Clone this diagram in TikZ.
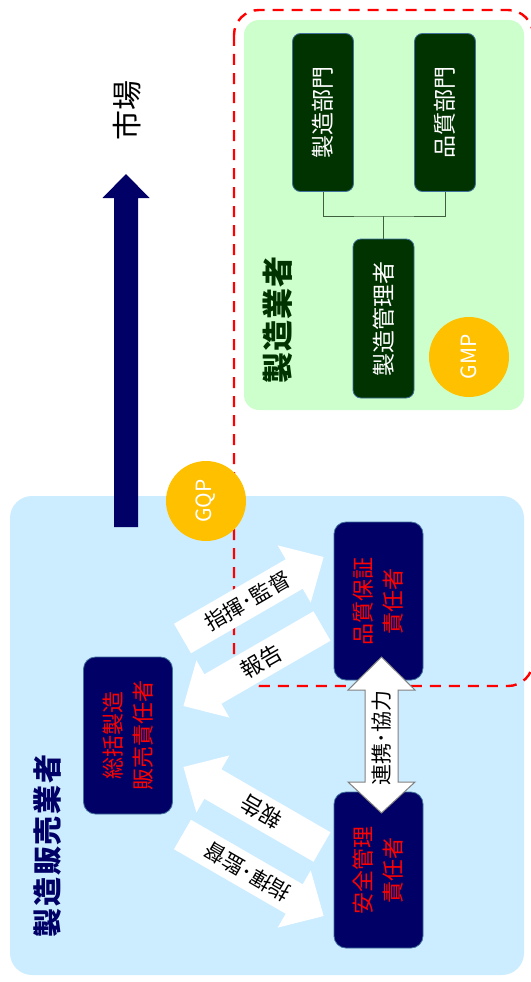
\documentclass[tikz,border=0pt]{standalone}
\usepackage{fontspec}
\setmainfont{Noto Sans CJK JP}
\definecolor{lblue}{HTML}{CCECFF}
\definecolor{lgreen}{HTML}{CCFFCC}
\definecolor{navy}{HTML}{000066}
\definecolor{dgreen}{HTML}{003300}
\definecolor{boxline}{HTML}{41719C}
\definecolor{gold}{HTML}{FFC000}
\definecolor{connline}{HTML}{3F5F3F}
\tikzset{
  fs/.style={font=\fontsize{#1}{#1}\selectfont},
  greenbox/.style={rounded corners=8pt, fill=dgreen, draw=boxline, line width=0.8pt,
    rotate=90, text=white, inner sep=0pt, minimum width=158pt, minimum height=61pt,
    font=\fontsize{23}{26}\selectfont},
  navybox/.style={rounded corners=12pt, fill=navy, draw=boxline, line width=0.8pt,
    rotate=90, text=red, inner sep=0pt, align=center, minimum width=157pt, minimum height=89pt,
    font=\fontsize{22}{30}\selectfont},
  badge/.style={circle, fill=gold, text=white, minimum size=80pt, inner sep=0pt,
    rotate=90, font=\fontsize{21}{21}\selectfont},
  blockarrow/.style={fill=white},
  arrowtext/.style={transform shape, text=black, inner sep=0pt},
  title/.style 2 args={rotate=90, font=\fontsize{#1}{#1}\bfseries\selectfont\addfontfeatures{LetterSpace=#2}},
}
\begin{document}
\begin{tikzpicture}[x=1pt,y=-1pt]
\useasboundingbox (0,0) rectangle (530,982);
% regions
\fill[lblue, rounded corners=22pt] (10,496) rectangle (524,975);
\fill[lgreen, rounded corners=15pt] (244,20) rectangle (524,410);
\draw[red, line width=2.4pt, dash pattern=on 11pt off 8pt, rounded corners=25pt] (234,10) rectangle (533,686);

% manufacturer
\node[title={31}{4}, text=dgreen] (mtitle) at (278,320) {製造業者};
\node[greenbox] (mfg) at (323,112.5) {製造部門};
\node[greenbox] (qual) at (445,112.5) {品質部門};
\node[greenbox, minimum width=159pt] (mgr) at (383.5,318.5) {製造管理者};
\coordinate (j) at (383.5,216);
\draw[connline, line width=0.8pt] (mfg.west) |- (j) -| (qual.west);
\draw[connline, line width=1pt] (j) -- (mgr.east);
\node[badge] (gmp) at (469,357) {GMP};

% market arrow
\fill[navy] (114,527) -- (114,198) -- (102.5,198) -- (126,174) -- (149.5,198) -- (138,198) -- (138,527) -- cycle;
\node[rotate=90, fs=30] (market) at (127,110) {市場};

% seller
\node[title={29}{6}, text=navy] (stitle) at (48,846) {製造販売業者};
\node[navybox] (gen) at (128,735.5) {総括製造\\販売責任者};
\node[navybox, minimum width=158pt] (qa) at (378.5,601) {品質保証\\責任者};
\node[navybox, minimum width=156pt] (safe) at (378.5,870) {安全管理\\責任者};
\node[badge] (gqp) at (206,501) {GQP};

% double arrow
\draw[fill=white, draw=gray, line width=1pt] (381.5,657) -- (415,690) -- (398,690) -- (398,782) -- (415,782)
  -- (381.5,813) -- (348,782) -- (365,782) -- (365,690) -- (348,690) -- cycle;
\node[rotate=90, fs=21, inner sep=0pt] (coop) at (381.5,738) {連携･協力};

% block arrows
\begin{scope}[shift={(182.5,638.5)}, rotate=30]
  \fill[blockarrow] (0,-17) -- (129,-17) -- (129,-33) -- (163,0) -- (129,33) -- (129,17) -- (0,17) -- cycle;
  \node[arrowtext, fs=21] (cmd1) at (75,0) {指揮･監督};
\end{scope}
\begin{scope}[shift={(322,626)}, rotate=210]
  \fill[blockarrow] (0,-17) -- (126,-17) -- (126,-33) -- (160,0) -- (126,33) -- (126,17) -- (0,17) -- cycle;
  \node[arrowtext, rotate=180, fs=22] (rep1) at (70,0) {報告};
\end{scope}
\begin{scope}[shift={(322,847)}, rotate=150]
  \fill[blockarrow] (0,-17) -- (126,-17) -- (126,-33) -- (160,0) -- (126,33) -- (126,17) -- (0,17) -- cycle;
  \node[arrowtext, fs=22] (rep2) at (70,0) {報告};
\end{scope}
\begin{scope}[shift={(182.5,834.5)}, rotate=-30]
  \fill[blockarrow] (0,-17) -- (129,-17) -- (129,-33) -- (163,0) -- (129,33) -- (129,17) -- (0,17) -- cycle;
  \node[arrowtext, rotate=180, fs=21] (cmd2) at (75,0) {指揮･監督};
\end{scope}
\end{tikzpicture}
\end{document}
